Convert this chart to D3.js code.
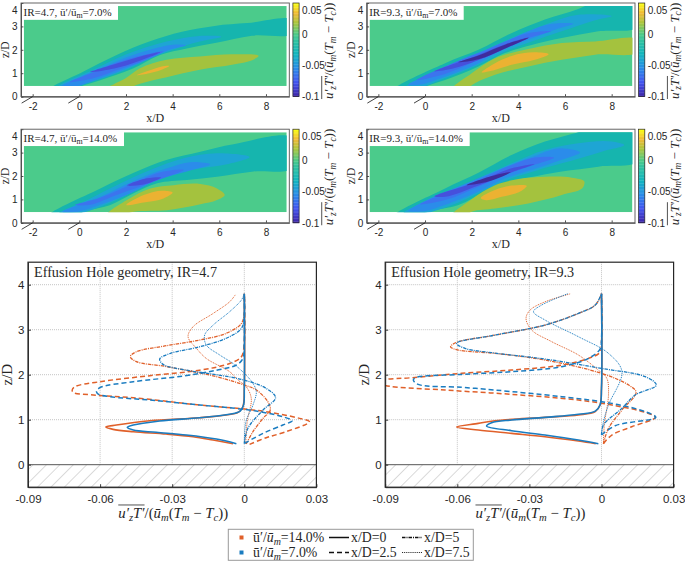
<!DOCTYPE html>
<html><head><meta charset="utf-8">
<script src="https://cdn.jsdelivr.net/npm/d3@7"></script>
<style>html,body{margin:0;padding:0;background:#fff}svg{display:block}</style>
</head><body><svg id="c" width="685" height="561"></svg>
<script>
// ---------- contour bands, [x/D, z/D] outlines ----------
const a_b1=[[-1.3,.28],[.18,1.07],[1.6,1.78],[3,2.35],[4.4,2.77],[5.8,3.02],[7.2,3.14],[9.2,3.2],[9.2,2.76],[7.4,2.6],[5.87,2.3],[4.6,2.06],[3.46,1.78],[2.3,1.2],[.9,.7],[.1,.45],[-.3,.28]];
const a_b2=[[-.9,.4],[.5,1.1],[2,1.8],[3.74,2.35],[5.16,2.59],[6.09,2.56],[5.16,2.35],[4,2],[3,1.62],[2,1.15],[.5,.62],[-.2,.4]];
const a_b3=[[-.7,.45],[.5,1],[2,1.67],[3.3,2.08],[4,2.22],[4.57,2.2],[3.8,1.98],[3,1.62],[2,1.2],[.6,.68],[-.3,.42]];
const a_b4=[[-.4,.62],[.6,1.05],[2,1.58],[3.6,1.92],[2.8,1.55],[1.8,1.2],[.6,.78]];
const a_b5=[[.47,1.05],[1.5,1.38],[2.5,1.68],[3.46,1.9],[2.5,1.5],[1.5,1.2]];
const a_p1=[[1.1,.3],[2,.8],[2.6,1.21],[3.74,1.57],[5.16,1.71],[6.6,1.81],[7.68,1.72],[7.5,1.6],[6.6,1.37],[5.16,1.15],[3.74,.83],[2.6,.55],[1.9,.3]];
const a_p2=[[2.46,.92],[3,1.12],[3.5,1.28],[3.85,1.31],[3.5,1.14],[3,1]];

const b_b1=[[-1.3,.28],[.86,1.43],[2.29,2],[3.7,2.71],[5.14,3.29],[6.57,3.74],[7.4,4.1],[9.2,4.1],[9.2,3.03],[7.43,2.79],[5.86,2.5],[4.57,2.21],[3.43,1.86],[2.29,1.29],[.86,.71],[.07,.45],[-.3,.28]];
const b_b2=[[-.9,.4],[-.57,.57],[.86,1.21],[2.29,1.86],[3.71,2.5],[5.14,3.07],[6.57,3.5],[8,3.43],[7.29,3.26],[5.86,2.79],[4.57,2.36],[3.43,1.93],[2.29,1.36],[.86,.79],[-.3,.38]];
const b_b3=[[-.7,.5],[.14,.93],[1.57,1.6],[3,2.14],[4.43,2.79],[5.43,3.11],[6.36,3.11],[5.57,2.86],[4.43,2.43],[3.29,2],[2.29,1.43],[.86,.86],[-.29,.5]];
const b_b4=[[-.36,.71],[.86,1.29],[2.29,1.86],[3.43,2.36],[4.43,2.71],[5.4,2.79],[4.29,2.46],[3.29,2.07],[2.29,1.57],[.86,.97]];
const b_b5=[[.4,1.08],[1.43,1.47],[2.29,1.78],[3.43,2.24],[4.47,2.53],[3.43,2.05],[2.29,1.56],[1.2,1.2]];
const b_b6=[[1.43,1.47],[2.29,1.76],[3.43,2.22],[4.42,2.51],[3.43,2.06],[2.29,1.6]];
const b_p1=[[1.15,.3],[2,1],[3,1.64],[4.43,2.03],[5.86,2.29],[7.29,2.36],[9.2,2.36],[9.2,1.98],[7.29,1.79],[5.86,1.57],[4.43,1.29],[3,.93],[2.14,.57],[1.7,.3]];
const b_p2=[[2.43,1.03],[3,1.43],[3.71,1.74],[4.71,1.89],[5.3,1.81],[4.71,1.57],[3.71,1.36],[2.71,1.07]];

const c_b1=[[-1.3,.28],[.9,1.47],[2.33,2.14],[3.76,2.69],[5.19,3.04],[6.61,3.36],[9.2,3.56],[9.2,2.38],[7.47,2.19],[5.9,1.97],[4.61,1.83],[3.33,1.69],[2.33,1.26],[1.33,.76],[.19,.47],[-.2,.28]];
const c_b2=[[-.9,.38],[.19,.9],[1.6,1.61],[3.04,2.26],[4.47,2.76],[5.9,2.97],[7.3,2.8],[6.33,2.5],[5.19,2.33],[3.76,2.04],[2.6,1.47],[1.33,.87],[-.1,.38]];
const c_b3=[[-.7,.45],[.9,1.11],[2.33,1.79],[3.76,2.33],[4.76,2.59],[5.61,2.5],[4.61,2.19],[3.33,1.83],[2.33,1.33],[1.04,.83],[-.24,.45]];
const c_b4=[[-.17,.76],[.9,1.07],[2.33,1.69],[3.61,2.19],[4.47,2.26],[3.76,1.97],[2.6,1.54],[1.6,1.19],[.4,.76]];
const c_b5=[[2.04,1.59],[2.9,1.9],[3.5,1.94],[2.76,1.64]];
const c_p1=[[1.15,.3],[2.04,.97],[3.04,1.47],[4.04,1.61],[5.19,1.66],[5.9,1.47],[6.23,1.19],[5.9,.97],[5.19,.79],[3.76,.54],[2.33,.47],[1.7,.3]];
const c_p2=[[2.01,.76],[2.76,1.19],[3.61,1.37],[4,1.29],[3.61,1.04],[2.76,.87]];

const d_b1=[[-1.3,.28],[.86,1.47],[2.29,2.14],[3.71,2.9],[5.14,3.47],[6.5,3.85],[7.4,4.1],[9.2,4.1],[9.2,2.67],[7.43,2.4],[5.86,2.19],[4.86,2.01],[3.71,1.76],[2.57,1.33],[1.43,.76],[.07,.45],[-.3,.28]];
const d_b2=[[-.9,.4],[.86,1.23],[2.29,1.9],[3.71,2.54],[5.14,3.11],[6.57,3.4],[8,3.47],[8.54,3.33],[7.57,3.04],[5.86,2.54],[4.86,2.26],[3.71,1.9],[2.57,1.4],[1.43,.87],[-.2,.38]];
const d_b3=[[-.7,.5],[.14,1.01],[1.57,1.61],[3,2.19],[4.43,2.76],[5.86,3.19],[6.64,3.01],[5.86,2.69],[4.57,2.26],[3.43,1.9],[2.43,1.4],[1.14,.87],[-.2,.48]];
const d_b4=[[-.2,.79],[.86,1.26],[2.29,1.83],[3.71,2.47],[4.71,2.79],[5.53,2.79],[4.43,2.4],[3.43,2.04],[2.29,1.54],[.86,.97]];
const d_b5=[[.43,1.11],[2.29,1.76],[3.71,2.33],[4.69,2.5],[3.71,2.16],[2.29,1.59],[.86,1.11]];
const d_b6=[[1.79,1.61],[2.86,2],[3.67,2.17],[2.71,1.76]];
const d_p1=[[1.15,.3],[2,1.01],[3,1.61],[4,1.87],[5.14,1.97],[6.29,1.93],[6.83,1.76],[6.79,1.54],[5.86,1.19],[4.43,.83],[3,.61],[2,.47],[1.7,.3]];
const d_p2=[[2.4,1.04],[3,1.4],[3.71,1.59],[4.36,1.57],[4.14,1.37],[3.29,1.11],[2.57,.97]];

const bandColors={b1:"#16b5ae",b2:"#1ea5d4",b3:"#2b8cea",b4:"#3c74ee",b5:"#4650dc",b6:"#3f2c9c",p1:"#a4c23e",p2:"#ebb232"};
const fieldColor="#4bcb8b";
const parulaStops=["#3e26a8","#4355f0","#2a8ce8","#12b5c0","#30c2a0","#4bca8a","#aec63c","#f0ba38","#f9fb15"];
const parulaAt=[0,.15,.3,.45,.6,.667,.8,.9,1];

// ---------- profiles, IR=4.7, [u'T', z/D] ----------
const L14_0=[[-.0047,.467],[-.013,.548],[-.0213,.622],[-.0324,.681],[-.0462,.733],[-.0546,.785],[-.0576,.837],[-.0532,.881],[-.0393,.978],[-.0186,1.044],[-.0075,1.104],[-.0026,1.163],[-.0006,1.289],[0,1.7],[0,3.8]];
const L07_0=[[-.0033,.467],[-.0116,.57],[-.0241,.66],[-.0366,.72],[-.0462,.77],[-.0487,.83],[-.0462,.881],[-.0352,.97],[-.0186,1.044],[-.0061,1.12],[-.0017,1.19],[-.0003,1.33],[0,1.7],[0,3.8]];
const L14_25=[[.0022,.452],[.0091,.6],[.0174,.733],[.0271,.956],[.023,1.03],[.0091,1.178],[0,1.237],[-.0186,1.326],[-.0462,1.489],[-.0629,1.548],[-.0712,1.607],[-.0716,1.66],[-.0705,1.733],[-.0601,1.844],[-.0393,1.978],[-.0186,2.1],[-.0061,2.25],[-.0012,2.4],[0,2.73],[0,3.8]];
const L07_25=[[.0001,.474],[.0078,.696],[.016,.881],[.0199,.978],[.016,1.067],[.0064,1.178],[0,1.23],[-.0186,1.326],[-.0393,1.437],[-.056,1.511],[-.0608,1.57],[-.0615,1.62],[-.0601,1.711],[-.0462,1.844],[-.0255,1.97],[-.0116,2.1],[-.0033,2.215],[-.0006,2.36],[0,2.73],[0,3.8]];
const L14_5=[[.0008,.46],[.0036,.733],[.0078,1.03],[.0108,1.215],[.0098,1.4],[.005,1.66],[0,1.77],[-.0116,1.956],[-.0324,2.18],[-.0449,2.29],[-.0474,2.4],[-.0449,2.51],[-.0324,2.644],[-.0186,2.77],[-.0075,2.92],[-.0012,3.14],[0,3.4],[0,3.8]];
const L07_5=[[0,.47],[.0015,.81],[.0078,1.215],[.013,1.49],[.0091,1.696],[0,1.88],[-.0116,2],[-.0241,2.1],[-.0338,2.23],[-.0352,2.35],[-.031,2.47],[-.0186,2.62],[-.0075,2.81],[-.0012,3.03],[0,3.3],[0,3.8]];
const L14_75=[[.0006,.47],[.0012,.96],[.0029,1.47],[.0008,1.733],[-.0026,1.88],[-.0061,2.067],[-.0158,2.36],[-.0199,2.585],[-.0234,2.844],[-.0213,3.067],[-.013,3.36],[-.0061,3.62],[-.0036,3.785]];
const L07_75=[[0,.47],[.0007,.96],[.0036,1.326],[.005,1.62],[.0036,1.807],[0,2.03],[-.0047,2.25],[-.0102,2.437],[-.0158,2.66],[-.0165,2.88],[-.013,3.1],[-.0061,3.4],[-.0012,3.66],[-.0001,3.785]];

// ---------- profiles, IR=9.3 ----------
const R14_0=[[-.0024,.467],[-.0096,.526],[-.0235,.622],[-.0374,.696],[-.0513,.77],[-.0603,.837],[-.0513,.919],[-.0443,.978],[-.0235,1.052],[-.0096,1.104],[-.0026,1.178],[-.0006,1.326],[0,1.7],[0,3.8]];
const R07_0=[[-.0013,.467],[-.0096,.548],[-.0235,.659],[-.0374,.756],[-.0478,.859],[-.0457,.933],[-.0374,.993],[-.0235,1.052],[-.0096,1.12],[-.0026,1.19],[-.0006,1.326],[0,1.7],[0,3.8]];
const R14_25=[[.0008,.467],[.0043,.659],[.0126,.844],[.0224,1.052],[.0182,1.163],[.0043,1.326],[-.0096,1.437],[-.0374,1.563],[-.0651,1.659],[-.09,1.76],[-.093,1.83],[-.09,1.89],[-.079,1.933],[-.0582,2.03],[-.0374,2.104],[-.0165,2.215],[-.0054,2.363],[-.0006,2.5],[0,2.73],[0,3.8]];
const R07_25=[[0,.66],[.0057,.867],[.0226,1.052],[.0182,1.178],[.0043,1.363],[-.0165,1.511],[-.0443,1.659],[-.0582,1.72],[-.0763,1.785],[-.0783,1.881],[-.0775,1.933],[-.0582,2.007],[-.0374,2.067],[-.0165,2.178],[-.0054,2.363],[-.0006,2.57],[0,2.8],[0,3.8]];
const R14_5=[[.0008,.467],[.0029,.807],[.0085,1.215],[.0144,1.607],[.0113,1.77],[0,2.03],[-.0235,2.326],[-.0443,2.474],[-.0596,2.548],[-.0628,2.62],[-.0603,2.72],[-.0443,2.88],[-.0235,3.104],[-.0096,3.363],[-.0026,3.548],[0,3.8]];
const R07_5=[[0,.66],[.0008,.881],[.0085,1.252],[.014,1.548],[.0228,1.77],[.0182,1.956],[0,2.14],[-.0235,2.348],[-.0443,2.48],[-.0568,2.585],[-.0603,2.696],[-.0443,2.88],[-.0235,3.104],[-.0096,3.363],[-.0026,3.548],[0,3.8]];
const R14_75=[[.0008,.467],[.0012,.9],[.0029,1.548],[.0022,1.92],[-.0013,2.1],[-.0096,2.437],[-.0207,2.733],[-.029,2.99],[-.0314,3.25],[-.0297,3.437],[-.0235,3.62],[-.0128,3.8]];
const R07_75=[[0,.66],[.0008,.956],[.0029,1.326],[.0085,2.067],[.0029,2.474],[-.0096,2.844],[-.0235,3.215],[-.0283,3.4],[-.0249,3.548],[-.014,3.8]];

const cx=["-2","0","2","4","6","8"], cxV=[-2,0,2,4,6,8], czV=[0,1,2,3,4];
const cbV=[.05,0,-.05,-.1], cbL=["0.05","0","-0.05","-0.1"];
const lxV=[-.09,-.06,-.03,0,.03], lxL=["-0.09","-0.06","-0.03","0","0.03"], lzV=[0,1,2,3,4];
const lineColors={s14:"#e0602a",s07:"#1a7cc0"};

const serif="'Liberation Serif','Times New Roman',serif", sans="'Liberation Sans',Arial,sans-serif", ink="#262626";
const svg=d3.select("#c");
const defs=svg.append("defs");
const pat=defs.append("pattern").attr("id","hatch").attr("width",9.5).attr("height",9.5).attr("patternUnits","userSpaceOnUse").attr("patternTransform","rotate(-45)");
pat.append("line").attr("x1",0).attr("x2",9.5).attr("y1",0).attr("y2",0).attr("stroke","#bcbcbc").attr("stroke-width",1.1);

function math(g,x,y,size,parts,anchor,over){
  const t=g.append("text").attr("x",x).attr("y",y).attr("font-family",serif).attr("font-size",size).attr("fill",ink).attr("text-anchor",anchor||"start");
  let prevSub=false;
  parts.forEach(([s,k])=>{
    const sub=k==="s"||k==="u";
    const ts=t.append("tspan").text(s).attr("font-style",(k==="i"||k==="s")?"italic":"normal");
    if(sub)ts.attr("font-size",size*.72).attr("dy",size*.22);
    else if(prevSub)ts.attr("dy",-size*.22);
    prevSub=sub;
  });
  if(over){
    const node=t.node(), bb=node.getStartPositionOfChar(0), end=node.getEndPositionOfChar(over-1);
    g.append("line").attr("x1",bb.x).attr("x2",end.x).attr("y1",y-size*.86).attr("y2",y-size*.86).attr("stroke",ink).attr("stroke-width",.8);
  }
  return t;
}
const fluxParts=[["u′","i"],["z","s"],["T′","i"],["/(","r"],["ū","i"],["m","s"],["(","r"],["T","i"],["m","s"],[" − ","r"],["T","i"],["c","s"],["))","r"]];

function contourPanel(o){
  const x=d3.scaleLinear().domain([-2.5,9]).range([o.x0,o.x0+268.3]);
  const z=d3.scaleLinear().domain([0,4]).range([o.y0+93.6,o.y0]);
  const g=svg.append("g");
  const id="cl"+o.id;
  defs.append("clipPath").attr("id",id).append("rect").attr("x",x(-2.38)).attr("y",z(3.87)).attr("width",x(8.89)-x(-2.38)).attr("height",z(.455)-z(3.87));
  const f=g.append("g").attr("clip-path",`url(#${id})`);
  f.append("rect").attr("x",x(-2.38)).attr("y",z(3.87)).attr("width",x(8.89)-x(-2.38)).attr("height",z(.455)-z(3.87)).attr("fill",fieldColor);
  const ln=d3.line().x(d=>x(d[0])).y(d=>z(d[1])).curve(d3.curveCatmullRomClosed.alpha(.8));
  o.bands.forEach(([k,pts])=>f.append("path").attr("d",ln(pts)).attr("fill",bandColors[k]));
  g.append("rect").attr("x",x(-2.5)).attr("y",z(3.9)).attr("width",o.boxW).attr("height",z(3.28)-z(3.9)).attr("fill","#fff");
  math(g,x(-2.5)+2.5,z(3.28)-4,11,[["IR="+o.ir+", ","r"],["ū","r"],["′/","r"],["ū","r"],["m","u"],["="+o.pct+"%","r"]]);
  const ax=d3.axisBottom(x).tickValues(cxV).tickFormat((d,i)=>cx[i]).tickSizeInner(-2.4).tickSizeOuter(0).tickPadding(6);
  const ay=d3.axisLeft(z).tickValues(czV).tickFormat(d3.format("d")).tickSizeInner(-2.4).tickSizeOuter(0).tickPadding(3.5);
  const xg=g.append("g").attr("transform",`translate(0,${z(0)})`).call(ax);
  const yg=g.append("g").attr("transform",`translate(${x(-2.5)},0)`).call(ay);
  [xg,yg].forEach(a=>{a.selectAll("text").attr("font-family",sans).attr("font-size",10).attr("fill",ink);a.selectAll("line,path").attr("stroke",ink).attr("stroke-width",.8);});
  yg.selectAll(".tick").filter(d=>d===4).select("text").attr("dy","1.02em");
  g.append("rect").attr("x",x(-2.5)).attr("y",z(4)).attr("width",x(9)-x(-2.5)).attr("height",z(0)-z(4)).attr("fill","none").attr("stroke","#555").attr("stroke-width",.9);
  [-2,0].forEach(v=>g.append("line").attr("x1",x(v)).attr("y1",z(0)).attr("x2",x(v)-11).attr("y2",z(0)+6.5).attr("stroke","#111").attr("stroke-width",.8));
  g.append("text").attr("x",x(3.25)).attr("y",z(0)+25).attr("font-family",serif).attr("font-size",12).attr("text-anchor","middle").attr("fill",ink).text("x/D");
  g.append("text").attr("transform",`translate(${o.x0-12},${z(2.0)}) rotate(-90)`).attr("font-family",serif).attr("font-size",11.5).attr("text-anchor","middle").attr("fill",ink).text("z/D");
  const cb=d3.scaleLinear().domain([-.1,.05]).range([z(0),z(4)]);
  const cx0=x(9)+3.6, cw=6.2;
  const col=d3.scaleLinear().domain(parulaAt).range(parulaStops).interpolate(d3.interpolateRgb);
  d3.range(0,64).forEach(i=>{
    const v0=-.1+.15*i/64, v1=-.1+.15*(i+1)/64;
    g.append("rect").attr("x",cx0).attr("y",cb(v1)).attr("width",cw).attr("height",cb(v0)-cb(v1)+.3).attr("fill",col(i/63));
  });
  g.append("rect").attr("x",cx0).attr("y",z(4)).attr("width",cw).attr("height",z(0)-z(4)).attr("fill","none").attr("stroke",ink).attr("stroke-width",.7);
  const ac=d3.axisRight(cb).tickValues(cbV).tickFormat((d,i)=>cbL[i]).tickSizeInner(0).tickSizeOuter(0).tickPadding(3);
  const cg=g.append("g").attr("transform",`translate(${cx0+cw},0)`).call(ac);
  cg.selectAll("path,line").remove();
  cg.selectAll("text").attr("font-family",sans).attr("font-size",10).attr("fill",ink);
  cg.selectAll(".tick").filter(d=>d===.05).select("text").attr("dy","1.02em");
  const lab=g.append("g").attr("transform",`translate(${cx0+40},${z(2)+1}) rotate(-90)`);
  math(lab,0,0,13,fluxParts,"middle",5);
}
[
 {id:1,x0:21,y0:3,ir:"4.7",pct:"7.0",boxW:97,bands:[["b1",a_b1],["b2",a_b2],["b3",a_b3],["b4",a_b4],["b5",a_b5],["p1",a_p1],["p2",a_p2]]},
 {id:2,x0:366.7,y0:3,ir:"9.3",pct:"7.0",boxW:97,bands:[["b1",b_b1],["b2",b_b2],["b3",b_b3],["b4",b_b4],["b5",b_b5],["b6",b_b6],["p1",b_p1],["p2",b_p2]]},
 {id:3,x0:21,y0:129.2,ir:"4.7",pct:"14.0",boxW:103,bands:[["b1",c_b1],["b2",c_b2],["b3",c_b3],["b4",c_b4],["b5",c_b5],["p1",c_p1],["p2",c_p2]]},
 {id:4,x0:366.7,y0:129.2,ir:"9.3",pct:"14.0",boxW:103,bands:[["b1",d_b1],["b2",d_b2],["b3",d_b3],["b4",d_b4],["b5",d_b5],["b6",d_b6],["p1",d_p1],["p2",d_p2]]}
].forEach(contourPanel);

const dashes={d0:null,d25:"5 3",d5:"3.5 1 1 1",d75:"1 .9"};
const widths={d0:1.6,d25:1.5,d5:1.3,d75:1};
function linePanel(o){
  const x=d3.scaleLinear().domain([-.09,.03]).range([o.x0,o.x0+288.4]);
  const z=d3.scaleLinear().domain([-.5,4.5]).range([487.2,262.2]);
  const g=svg.append("g");
  const id="lp"+o.id;
  defs.append("clipPath").attr("id",id).append("rect").attr("x",x(-.09)).attr("y",z(4.5)).attr("width",x(.03)-x(-.09)).attr("height",z(-.5)-z(4.5));
  const grid=g.append("g").attr("stroke","#c4c4c4").attr("stroke-width",1).attr("stroke-dasharray","1 1");
  lxV.slice(1,4).forEach(v=>grid.append("line").attr("x1",x(v)).attr("x2",x(v)).attr("y1",z(4.5)).attr("y2",z(0)));
  lzV.slice(1).forEach(v=>grid.append("line").attr("x1",x(-.09)).attr("x2",x(.03)).attr("y1",z(v)).attr("y2",z(v)));
  g.append("rect").attr("x",x(-.09)).attr("y",z(0)).attr("width",x(.03)-x(-.09)).attr("height",z(-.5)-z(0)).attr("fill","url(#hatch)");
  g.append("line").attr("x1",x(-.09)).attr("x2",x(.03)).attr("y1",z(0)).attr("y2",z(0)).attr("stroke","#555").attr("stroke-width",1);
  const ln=d3.line().x(d=>x(d[0])).y(d=>z(d[1])).curve(d3.curveCatmullRom.alpha(.5));
  const lines=g.append("g").attr("clip-path",`url(#${id})`).attr("fill","none");
  o.series.forEach(([pts,c,d])=>lines.append("path").attr("d",ln(pts)).attr("stroke",lineColors[c]).attr("stroke-width",widths[d]).attr("stroke-dasharray",dashes[d]));
  const ax=d3.axisBottom(x).tickValues(lxV).tickFormat((d,i)=>lxL[i]).tickSizeInner(-3).tickSizeOuter(0).tickPadding(7.5);
  const ay=d3.axisLeft(z).tickValues(lzV).tickFormat(d3.format("d")).tickSizeInner(-3).tickSizeOuter(0).tickPadding(3.5);
  const xg=g.append("g").attr("transform",`translate(0,${z(-.5)})`).call(ax);
  const yg=g.append("g").attr("transform",`translate(${x(-.09)},0)`).call(ay);
  [xg,yg].forEach(a=>{a.selectAll("text").attr("font-family",sans).attr("font-size",11.5).attr("fill",ink);a.selectAll("line,path").attr("stroke",ink).attr("stroke-width",.9);});
  g.append("rect").attr("x",x(-.09)).attr("y",z(4.5)).attr("width",x(.03)-x(-.09)).attr("height",z(-.5)-z(4.5)).attr("fill","none").attr("stroke",ink).attr("stroke-width",1.2);
  g.append("text").attr("x",x(-.09)+6).attr("y",z(4.5)+15).attr("font-family",serif).attr("font-size",14.2).attr("fill",ink).attr("textLength",183).text("Effusion Hole geometry, IR="+o.ir);
  g.append("text").attr("transform",`translate(${x(-.09)-16},${z(2)}) rotate(-90)`).attr("font-family",serif).attr("font-size",15).attr("text-anchor","middle").attr("fill",ink).text("z/D");
  math(g,x(-.03)+1,z(-.5)+30.5,14.8,fluxParts,"middle",5);
}
linePanel({id:1,x0:28,ir:"4.7",series:[[L14_0,"s14","d0"],[L14_25,"s14","d25"],[L14_5,"s14","d5"],[L14_75,"s14","d75"],[L07_0,"s07","d0"],[L07_25,"s07","d25"],[L07_5,"s07","d5"],[L07_75,"s07","d75"]]});
linePanel({id:2,x0:385.2,ir:"9.3",series:[[R14_0,"s14","d0"],[R14_25,"s14","d25"],[R14_5,"s14","d5"],[R14_75,"s14","d75"],[R07_0,"s07","d0"],[R07_25,"s07","d25"],[R07_5,"s07","d5"],[R07_75,"s07","d75"]]});

const L=svg.append("g");
L.append("rect").attr("x",228.3).attr("y",529.3).attr("width",245).attr("height",31).attr("fill","#fff").attr("stroke","#999").attr("stroke-width",1);
const rows=[537.5,552.5];
[["s14","14.0"],["s07","7.0"]].forEach(([c,p],i)=>{
  L.append("rect").attr("x",239.5).attr("y",rows[i]-2).attr("width",4).attr("height",4).attr("fill",lineColors[c]);
  math(L,253,rows[i]+4.5,13.8,[["ū","r"],["′/","r"],["ū","i"],["m","s"],["="+p+"%","r"]]);
});
[[329,0,"d0","x/D=0"],[402,0,"d5","x/D=5"],[329,1,"d25","x/D=2.5"],[402,1,"d75","x/D=7.5"]].forEach(([x,r,d,t])=>{
  L.append("line").attr("x1",x).attr("x2",x+20).attr("y1",rows[r]).attr("y2",rows[r]).attr("stroke","#111").attr("stroke-width",d==="d75"?.9:1.5).attr("stroke-dasharray",dashes[d]);
  L.append("text").attr("x",x+22).attr("y",rows[r]+4.5).attr("font-family",serif).attr("font-size",13.8).attr("fill",ink).text(t);
});
</script></body></html>
